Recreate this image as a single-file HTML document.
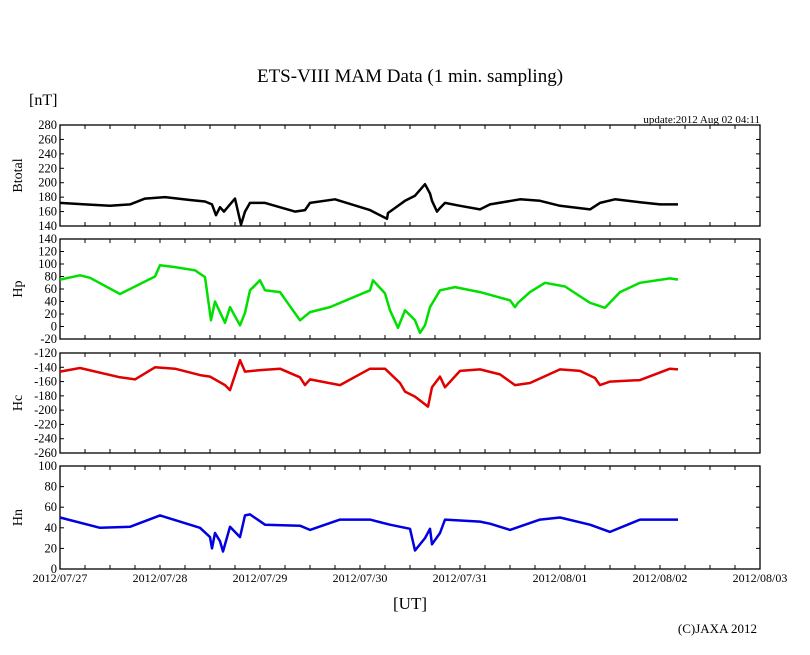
<!DOCTYPE html>
<html><head><meta charset="utf-8"><style>
body{margin:0;background:#fff;}
svg{display:block;font-family:"Liberation Serif",serif;}
</style></head><body>
<svg id="chart" width="810" height="655" viewBox="0 0 810 655" xmlns="http://www.w3.org/2000/svg">
<text x="410" y="82" font-size="19" text-anchor="middle">ETS-VIII MAM Data (1 min. sampling)</text>
<text x="29" y="105" font-size="16">[nT]</text>
<text x="760" y="123" font-size="11" text-anchor="end">update:2012 Aug 02 04:11</text>
<text x="410" y="609" font-size="17" text-anchor="middle">[UT]</text>
<text x="757" y="633" font-size="13" text-anchor="end">(C)JAXA 2012</text>
<g id="plots"></g>
</svg>
<script>
const xTickLabels=["2012/07/27","2012/07/28","2012/07/29","2012/07/30","2012/07/31","2012/08/01","2012/08/02","2012/08/03"];
const btDays=[0,0.25,0.5,0.7,0.85,1.05,1.3,1.45,1.52,1.56,1.6,1.64,1.7,1.75,1.78,1.81,1.85,1.9,2.05,2.35,2.45,2.5,2.75,3.1,3.27,3.28,3.35,3.45,3.55,3.6,3.65,3.7,3.72,3.77,3.8,3.85,4.0,4.2,4.3,4.6,4.8,5.0,5.3,5.4,5.55,5.8,6.0,6.18];
const btVals=[172,170,168,170,178,180,176,174,170,155,166,160,170,178,160,142,160,172,172,160,162,172,177,162,150,158,165,175,182,190,198,185,175,160,165,172,168,163,170,177,175,168,163,172,177,173,170,170];
const hpDays=[0,0.2,0.3,0.6,0.95,1.0,1.15,1.35,1.45,1.51,1.55,1.65,1.7,1.8,1.85,1.9,2.0,2.05,2.2,2.4,2.5,2.7,3.1,3.13,3.25,3.3,3.38,3.45,3.55,3.6,3.65,3.7,3.8,3.95,4.2,4.5,4.55,4.58,4.7,4.85,5.05,5.3,5.45,5.6,5.8,6.1,6.18];
const hpVals=[75,82,78,52,80,98,95,90,79,10,40,6,31,2,22,58,74,58,55,10,23,31,58,74,53,26,-2,26,10,-10,2,31,58,63,55,42,31,38,55,70,64,38,30,55,70,77,75];
const hcDays=[0,0.2,0.6,0.75,0.95,1.15,1.4,1.5,1.65,1.7,1.8,1.85,2.0,2.2,2.4,2.45,2.5,2.8,3.1,3.25,3.4,3.45,3.55,3.68,3.72,3.8,3.85,4.0,4.2,4.4,4.55,4.7,5.0,5.2,5.35,5.4,5.5,5.8,6.1,6.18];
const hcVals=[-146,-141,-154,-157,-140,-142,-151,-153,-165,-172,-130,-146,-144,-142,-154,-165,-157,-165,-142,-142,-162,-174,-181,-195,-168,-153,-168,-145,-143,-150,-165,-162,-143,-145,-155,-165,-160,-158,-142,-143];
const hnDays=[0,0.4,0.7,1.0,1.4,1.5,1.52,1.55,1.6,1.63,1.7,1.8,1.85,1.9,2.05,2.4,2.5,2.8,3.1,3.3,3.5,3.55,3.65,3.7,3.72,3.8,3.85,4.2,4.3,4.5,4.8,5.0,5.3,5.5,5.8,6.18];
const hnVals=[50,40,41,52,40,31,20,35,27,17,41,31,52,53,43,42,38,48,48,43,39,18,30,39,24,35,48,46,44,38,48,50,43,36,48,48];
const panels=[
 {name:"btotal",label:"Btotal",top:125,bot:226,min:140,max:280,days:btDays,vals:btVals,color:"#000"},
 {name:"hp",label:"Hp",top:239,bot:339,min:-20,max:140,days:hpDays,vals:hpVals,color:"#00e000"},
 {name:"hc",label:"Hc",top:353,bot:453,min:-260,max:-120,days:hcDays,vals:hcVals,color:"#e00000"},
 {name:"hn",label:"Hn",top:466,bot:569,min:0,max:100,days:hnDays,vals:hnVals,color:"#0000e0"}
];
const L=60,R=760,NS="http://www.w3.org/2000/svg";
const xs=d=>L+(R-L)*d/7;
const g=document.getElementById('plots');
function mk(t,a,p){const e=document.createElementNS(NS,t);for(const k in a)e.setAttribute(k,a[k]);(p||g).appendChild(e);return e;}
panels.forEach(p=>{
 const ys=v=>p.bot-(v-p.min)/(p.max-p.min)*(p.bot-p.top);
 const grp=mk('g',{});
 
 
 const fr=mk('rect',{x:L,y:p.top,width:R-L,height:p.bot-p.top,fill:'none',stroke:'#000','stroke-width':1.3},grp);
 
 
 for(let i=1;i<28;i++){const x=xs(i/4);
  mk('line',{x1:x,x2:x,y1:p.top,y2:p.top+4,stroke:'#000'},grp);
  mk('line',{x1:x,x2:x,y1:p.bot,y2:p.bot-4,stroke:'#000'},grp);}
 const step=20;
 for(let v=p.min;v<=p.max;v+=step){const y=ys(v);
  mk('line',{x1:L,x2:L+4,y1:y,y2:y,stroke:'#000'},grp);
  mk('line',{x1:R,x2:R-4,y1:y,y2:y,stroke:'#000'},grp);
  const t=mk('text',{x:L-3,y:y+4,'font-size':12.5,'text-anchor':'end'},grp);
  t.textContent=v;
  
  }
 const yl=mk('text',{x:0,y:0,'font-size':14,'text-anchor':'middle',transform:`translate(22,${(p.top+p.bot)/2}) rotate(-90)`},grp);
 yl.textContent=p.label;
 
 
 const pts=p.days.map((d,i)=>xs(d).toFixed(1)+','+ys(p.vals[i]).toFixed(1)).join(' ');
 const ln=mk('polyline',{points:pts,fill:'none',stroke:p.color,'stroke-width':2.5,'stroke-linejoin':'round'},grp);
 
 
});
xTickLabels.forEach((s,i)=>{
 const t=mk('text',{x:xs(i),y:582,'font-size':12,'text-anchor':'middle'});
 t.textContent=s;
 
 
});
</script>
</body></html>
